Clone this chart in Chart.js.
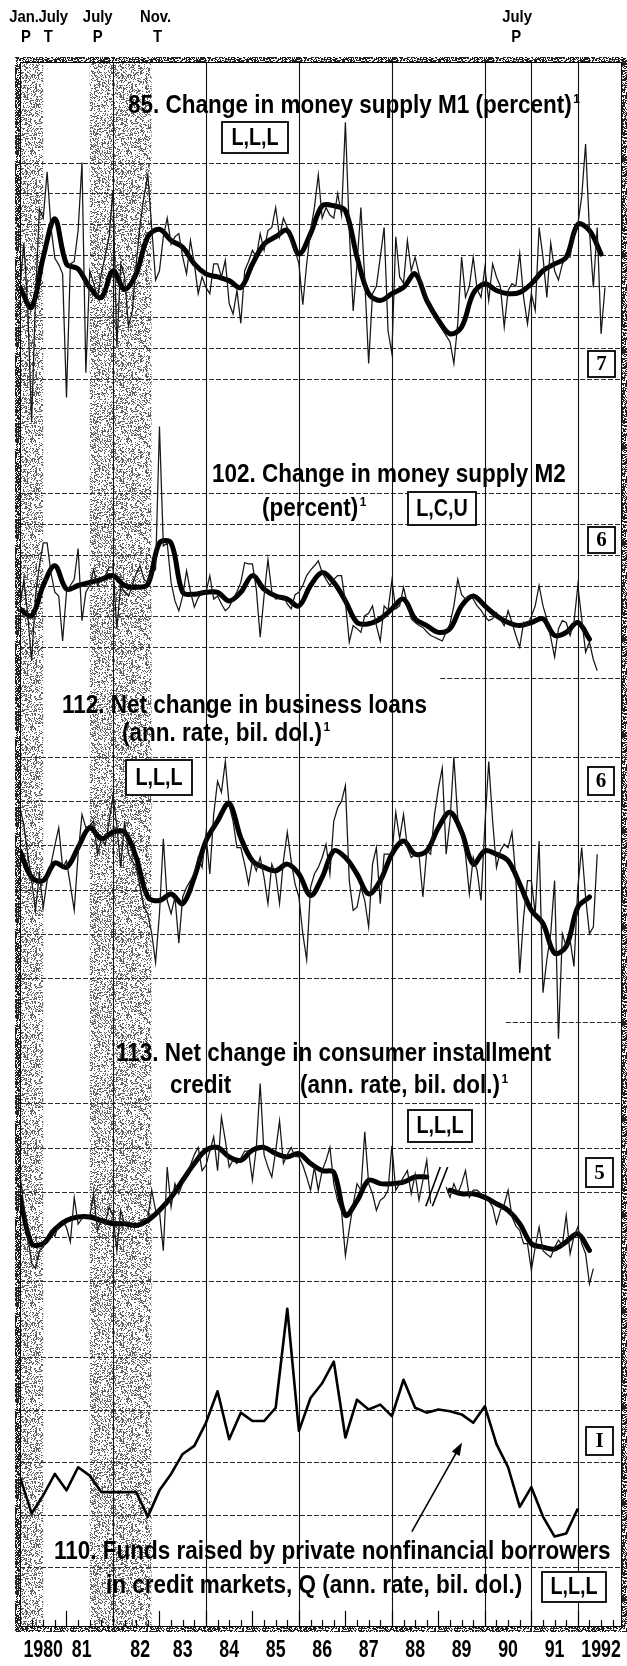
<!DOCTYPE html>
<html>
<head>
<meta charset="utf-8">
<style>
  html, body { margin: 0; padding: 0; background: #fff; }
  canvas { display: block; }
</style>
<script src="https://cdn.jsdelivr.net/npm/chart.js@4.4.1/dist/chart.umd.min.js"></script>
</head>
<body>
<canvas id="bcd" width="627" height="1666"></canvas>
<script>
const START = 1980;

// 85. Change in money supply M1, percent, monthly from Jan. 1980
const m1Monthly = [
  0.5, 1.2, 0.15, -1.7, 0.3, 1.75, 1.6, 2.35, 1.45, 0.95, 0.85, 0.7,
  -1.3, 0.86, 0.9, 1.4, 2.5, -0.9, 0.75, 0.55, 0.32, 0.7, 1.0, 1.3,
  2.05, -0.48, 0.86, 0.65, -0.15, 0.1, 0.86, 1.5, 1.95, 2.3, 1.45, 0.6,
  0.75, 1.3, 1.6, 1.18, 1.3, 1.35, 0.97, 0.7, 1.24, 0.86, 0.38, 0.65,
  0.48, 0.38, 0.86, 0.86, 0.65, 0.92, 0.22, 0.05, 0.43, -0.1, 0.75, 0.9,
  1.08, 0.97, 1.35, 1.08, 1.4, 1.45, 1.77, 1.3, 1.6, 1.45, 1.24, 1.08,
  0.86, 0.2, 0.86, 1.4, 1.77, 2.3, 1.6, 1.77, 1.65, 1.6, 2.0, 1.65,
  3.15, 1.4, 0.1, 0.86, 1.77, 0.6, -0.75, 0.38, 0.5, 0.97, 1.45, -0.22,
  -0.59, 1.3, 0.65, 0.55, 1.24, 0.75, 0.97, 0.7, 0.48, 0.32, 0.16, 0.0,
  -0.1, -0.2, -0.3, -0.4, -0.75, -0.1, 0.97, 0.32, 0.5, 0.97, 0.45, 0.32,
  0.8, 0.27, 0.86, 0.65, 0.5, -0.16, 0.43, 0.54, 0.5, 1.03, 0.32, -0.11,
  0.38, 0.11, 1.45, 0.97, 0.32, 1.2, 0.75, 0.6, 0.86, 0.97, 0.97, 1.35,
  1.5, 1.95, 2.8, 1.4, 0.48, 1.45, -0.27, 0.48
];
// smoothed M1 curve, read quarterly
const m1Smooth = [
  0.48, 0.16, 0.97, 1.59, 0.86, 0.78, 0.48, 0.32, 0.75, 0.45,
  0.7, 1.3, 1.42, 1.24, 1.13, 0.86, 0.7, 0.65, 0.59, 0.48,
  0.86, 1.18, 1.3, 1.4, 1.02, 1.35, 1.8, 1.8, 1.72, 0.97,
  0.38, 0.27, 0.38, 0.48, 0.7, 0.27, -0.05, -0.27, -0.16, 0.38,
  0.54, 0.43, 0.38, 0.4, 0.54, 0.75, 0.86, 0.97, 1.5, 1.4,
  1.02
];

// 102. Change in money supply M2, percent, monthly
const m2Monthly = [
  0.67, 1.1, 0.51, -0.22, 0.83, 1.32, 1.69, 1.69, 1.2, 0.89, 0.83, 0.1,
  0.89, 1.0, 1.1, 1.6, 0.43, 0.89, 1.0, 1.26, 1.0, 1.1, 1.16, 1.3,
  1.3, 0.3, 1.0, 0.89, 0.83, 1.0, 1.2, 1.32, 1.1, 1.05, 1.2, 1.26,
  3.58, 1.64, 1.69, 1.05, 0.75, 0.59, 0.83, 1.24, 0.9, 0.65, 0.8, 0.89,
  0.89, 1.16, 0.78, 0.83, 0.7, 0.59, 0.65, 0.78, 0.9, 1.05, 1.37, 1.35,
  1.35, 0.94, 0.16, 0.83, 1.42, 0.9, 0.78, 0.8, 0.83, 0.7, 0.62, 0.85,
  0.89, 1.0, 1.16, 1.25, 1.32, 1.4, 1.21, 1.1, 1.0, 1.1, 1.16, 1.16,
  0.73, 0.08, 0.35, 0.3, 0.24, 0.51, 0.55, 0.67, 0.35, 0.1, 0.67, 0.6,
  1.08, 0.62, 0.67, 0.97, 0.7, 0.46, 0.4, 0.35, 0.32, 0.25, 0.19, 0.16,
  0.13, 0.1, 0.24, 0.38, 0.67, 1.1, 0.85, 0.78, 0.83, 0.78, 0.67, 0.6,
  0.5, 0.43, 0.46, 0.56, 0.45, 0.35, 0.59, 0.4, 0.19, 0.0, 0.4, 0.35,
  0.5, 0.67, 1.0, 0.67, 0.46, 0.16, -0.16, 0.3, 0.43, 0.4, 0.19, 0.4,
  1.0, 0.46, -0.08, 0.08, -0.2, -0.38
];
const m2Smooth = [
  0.62, 0.51, 1.0, 1.32, 0.94, 1.0, 1.05, 1.1, 1.16, 1.0,
  0.97, 1.02, 1.69, 1.69, 0.89, 0.86, 0.89, 0.89, 0.75, 0.89,
  1.16, 0.94, 0.83, 0.78, 0.67, 1.0, 1.21, 1.05, 0.75, 0.4,
  0.38, 0.46, 0.62, 0.78, 0.46, 0.35, 0.24, 0.3, 0.67, 0.83,
  0.67, 0.51, 0.4, 0.35, 0.4, 0.46, 0.19, 0.24, 0.4, 0.13
];

// 112. Net change in business loans, ann. rate, bil. dol., monthly
const loansMonthly = [
  57, 49, 36, 24, 10.6, 27, 12, 24, 31.5, 40, 48, 30,
  33, 22, 10.6, 36, 54, 48, 49, 51, 36, 43, 40, 51,
  62, 49, 30, 51, 36, 33, 30, 21, 12, 9, 0, -13,
  9, 43, 15, 9, 16.6, -4.3, 16.6, 21, 24, 27, 34.5, 30,
  45, 27, 54, 69, 64, 78, 58, 51, 39, 39, 31.5, 22.5,
  33, 28.5, 34.5, 25.5, 13.6, 31.5, 27, 13.6, 33, 46, 33, 22.5,
  16.6, 0, -11.8, 21, 27, 30, 34.5, 40.5, 27, 51, 57, 60,
  67, 24, 10.6, 12, 21, 15, 3, 31.5, 39, 13.6, 36, 36,
  36, 55, 43, 54, 39, 34.5, 36, 36, 16.6, 37.5, 36, 54,
  65.8, 75, 36, 51, 80, 52, 45, 36, 18, 34.5, 28.5, 15,
  49, 78, 51, 30, 37.5, 40.5, 39, 46, 25.5, -17.8, 7.6, 24,
  24, 9, 42, -26.7, -11.8, 0, 24, -47.6, 0, -5.8, -2.8, -14.8,
  21, 39, 16.6, 0, 3, 36
];
const loansSmooth = [
  37.5, 25.5, 24, 32, 30, 39, 48, 43, 46, 46,
  34.5, 16.6, 15, 18, 13.6, 25.5, 42, 51, 59, 43.4,
  33, 30, 28.5, 31.5, 27, 17.3, 25.5, 37.5, 34.5, 27,
  18, 24, 36, 42, 36, 37.5, 48, 55, 46, 31.5,
  37.5, 36, 33, 22.5, 10.6, 4.6, -8.8, -5.8, 12, 16.6
];

// 113. Net change in consumer installment credit, ann. rate, bil. dol., monthly
// (null months mark the break in the series late 1988 / early 1989)
const creditMonthly = [
  35, 16.6, 0, -15, -18, -8, -6, 0, 3.4, 0, 7.2, 9,
  5, -3, 22, 7, 10, 11, 11, 24, 3.4, 9, 7, 16.6,
  12, -8, 14.7, 7, 8, 6, 6, 8, 10, 10, 26, 14.7,
  14, -8, 39, 16.6, 29.7, 24, 30, 35, 40, 46, 50, 37,
  40, 48, 56, 37, 67, 54, 39, 43, 41, 44, 48, 48,
  31.6, 50, 86, 46, 39, 33.4, 48, 65, 41, 46, 50, 45,
  44.7, 40, 33.4, 26, 39, 26, 37, 42.8, 50, 29.7, 20, 14.7,
  -10.7, 4.3, 18, 29.7, 26, 58.8, 29.7, 24, 14.7, 20.3, 22, 26,
  51, 26, 29.7, 33.4, 37, 24, 35, 20.3, 31.6, 42.8, 18.4, null,
  null, null, 27.8, 22, 29.7, 24, 29.7, 37, 22, 26, 26, 24,
  22, 20, 16.6, 7.2, 14.7, 18, 26, 11, 6, 3.4, -4, -4,
  -19, -6, 5.3, -8, -10, -11.6, -6, -2, -5, 12, -9.7, 0,
  5.3, -4, -9.7, -26.6, -18
];
const creditSmooth = [
  22, -4, -4, 4, 9, 11, 11, 9, 7.2, 7.2,
  6.2, 9, 14.7, 22, 31.6, 41, 48.5, 50, 44.7, 42.8,
  48.5, 50, 46.6, 44.7, 46.6, 41, 37, 36, 12, 20,
  31.6, 29.7, 29.7, 30.6, 33.4, 33.4, null, 26, 24, 24,
  22, 18.4, 14.7, 7.2, -4, -6, -7, -3, 1.5, -7.8
];

// 110. Funds raised by private nonfinancial borrowers, Q, ann. rate, bil. dol.
const fundsQuarterly = [
  407, 303, 355, 416, 369, 435, 411, 364, 364, 364,
  364, 294, 369, 416, 473, 496, 562, 652, 515, 591,
  567, 567, 605, 888, 539, 633, 675, 737, 520, 628,
  600, 614, 581, 685, 605, 591, 600, 595, 586, 562,
  609, 501, 435, 322, 378, 294, 237, 246, 317
];

// scale rules for each panel
const m1Rules = [2.5, 2, 1.5, 1, 0.5, 0, -0.5, -1];
const m2Rules = [2.5, 2, 1.5, 1, 0.5, 0, -0.5];
const loansRules = [80, 60, 40, 20, 0, -20, -40];
const creditRules = [75, 50, 25, 0, -25];
const fundsRules = [750, 600, 450, 300, 150];
const yearRules = [1982, 1984, 1986, 1988, 1990, 1991, 1992];
const yearLabels = ['1980', '81', '82', '83', '84', '85', '86', '87', '88', '89', '90', '91', '1992'];

// business-cycle peaks (P) and troughs (T)
const recessions = [[1980.0, 1980.5], [1981.5, 1982.83]];
const turningPoints = [
  { date: 1980.0, month: 'Jan.', phase: 'P' },
  { date: 1980.5, month: 'July', phase: 'T' },
  { date: 1981.5, month: 'July', phase: 'P' },
  { date: 1982.83, month: 'Nov.', phase: 'T' },
  { date: 1990.5, month: 'July', phase: 'P' }
];

// ---- layout ----
const AREA = { left: 20, right: 622, top: 62, bottom: 1627 };
const SANS = '"Liberation Sans", Arial, Helvetica, sans-serif';
const SERIF = '"Liberation Serif", "DejaVu Serif", serif';

// y range for a panel, pinned by two rule values and the rows they sit on
function band(vTop, pTop, vBot, pBot) {
  const perPx = (vTop - vBot) / (pBot - pTop);
  return {
    type: 'linear',
    display: false,
    min: vBot - (AREA.bottom - pBot) * perPx,
    max: vTop + (pTop - AREA.top) * perPx
  };
}

const panels = [
  { id: 'yM1', rules: m1Rules, scale: band(2.5, 162.5, -1, 379) },
  { id: 'yM2', rules: m2Rules, scale: band(2.5, 493, -0.5, 678), shortRule: [-0.5, 1989.04] },
  { id: 'yLoans', rules: loansRules, scale: band(80, 757, -40, 1022), shortRule: [-40, 1990.45] },
  { id: 'yCredit', rules: creditRules, scale: band(75, 1103, -25, 1281) },
  { id: 'yFunds', rules: fundsRules, scale: band(750, 1357, 150, 1567) }
];

const monthly = vals => vals.map((v, i) => ({ x: START + i / 12, y: v }));
const quarterly = vals => vals.map((v, i) => ({ x: START + i / 4, y: v }));

const thin = (data, axis) => ({
  data: monthly(data), yAxisID: axis, borderColor: '#161616', borderWidth: 1.25,
  pointRadius: 0, tension: 0, spanGaps: false
});
const heavy = (data, axis) => ({
  data: quarterly(data), yAxisID: axis, borderColor: '#000', borderWidth: 5,
  pointRadius: 0, tension: 0.35, spanGaps: false, borderJoinStyle: 'round', borderCapStyle: 'round'
});

function stipple(ctx, ink, cover, seed) {
  const size = 96;
  const c = document.createElement('canvas');
  c.width = c.height = size;
  const g = c.getContext('2d');
  const img = g.createImageData(size, size);
  let s = seed;
  for (let i = 0; i < size * size; i++) {
    s = (s * 1664525 + 1013904223) >>> 0;
    const v = (s / 4294967296) < cover ? ink : 255;
    img.data[i * 4] = img.data[i * 4 + 1] = img.data[i * 4 + 2] = v;
    img.data[i * 4 + 3] = 255;
  }
  g.putImageData(img, 0, 0);
  return ctx.createPattern(c, 'repeat');
}

function text(ctx, str, x, y, size, opt = {}) {
  const squeeze = opt.squeeze ?? 0.9;
  ctx.save();
  ctx.font = `bold ${size}px ${opt.serif ? SERIF : SANS}`;
  ctx.textAlign = opt.align || 'left';
  ctx.textBaseline = opt.baseline || 'alphabetic';
  ctx.fillStyle = '#000';
  ctx.translate(x, y);
  ctx.scale(squeeze, 1);
  ctx.fillText(str, 0, 0);
  const w = ctx.measureText(str).width * squeeze;
  ctx.restore();
  return w;
}

const titleLines = [
  ['85. Change in money supply M1 (percent)', 128, 113, true],
  ['102. Change in money supply M2', 212, 482, false],
  ['(percent)', 262, 516, true],
  ['112. Net change in business loans', 62, 713, false],
  ['(ann. rate, bil. dol.)', 122, 741, true],
  ['113. Net change in consumer installment', 116, 1061, false],
  ['credit', 170, 1093, false],
  ['(ann. rate, bil. dol.)', 300, 1093, true],
  ['110. Funds raised by private nonfinancial borrowers', 54, 1559, false],
  ['in credit markets, Q (ann. rate, bil. dol.)', 106, 1593, false]
];

const tags = [
  ['L,L,L', 222, 122, 66, 31, false],
  ['7', 588, 351, 27, 26, true],
  ['L,C,U', 408, 492, 68, 33, false],
  ['6', 588, 527, 27, 26, true],
  ['L,L,L', 126, 760, 66, 35, false],
  ['6', 588, 767, 26, 28, true],
  ['L,L,L', 408, 1110, 64, 32, false],
  ['5', 586, 1158, 27, 29, true],
  ['I', 586, 1427, 27, 28, true],
  ['L,L,L', 542, 1572, 64, 30, false]
];

const paper = {
  id: 'paper',
  beforeDatasetsDraw(chart) {
    const { ctx, chartArea: a, scales } = chart;
    const x = scales.x;
    ctx.save();
    ctx.fillStyle = '#fff';
    ctx.fillRect(0, 0, chart.width, chart.height);

    // shaded recessions
    ctx.fillStyle = stipple(ctx, 95, 0.32, 11);
    recessions.forEach(([s, e]) => {
      const x0 = x.getPixelForValue(s), x1 = x.getPixelForValue(e);
      ctx.fillRect(x0, a.top, x1 - x0, a.bottom - a.top);
    });

    // dashed horizontal rules
    ctx.strokeStyle = '#2a2a2a';
    ctx.lineWidth = 1;
    ctx.setLineDash([5, 2]);
    panels.forEach(p => {
      const sc = scales[p.id];
      p.rules.forEach(v => {
        const y = Math.round(sc.getPixelForValue(v)) + 0.5;
        const from = p.shortRule && p.shortRule[0] === v ? x.getPixelForValue(p.shortRule[1]) : a.left;
        ctx.beginPath();
        ctx.moveTo(from, y);
        ctx.lineTo(a.right, y);
        ctx.stroke();
      });
    });

    // solid year rules
    ctx.setLineDash([]);
    ctx.strokeStyle = '#111';
    ctx.lineWidth = 1.1;
    yearRules.forEach(yr => {
      const px = Math.round(x.getPixelForValue(yr)) + 0.5;
      ctx.beginPath();
      ctx.moveTo(px, a.top);
      ctx.lineTo(px, a.bottom);
      ctx.stroke();
    });
    ctx.restore();
  },
  afterDatasetsDraw(chart) {
    const { ctx, chartArea: a, scales } = chart;
    const x = scales.x;
    ctx.save();

    // break marks in series 113
    const yc = scales.yCredit;
    ctx.strokeStyle = '#000';
    ctx.lineWidth = 1.6;
    [[1988.73, 1989.04], [1988.87, 1989.2]].forEach(([d0, d1]) => {
      ctx.beginPath();
      ctx.moveTo(x.getPixelForValue(d0), yc.getPixelForValue(17));
      ctx.lineTo(x.getPixelForValue(d1), yc.getPixelForValue(39));
      ctx.stroke();
    });

    // arrow pointing at series 110
    const yf = scales.yFunds;
    const ax0 = x.getPixelForValue(1988.43), ay0 = yf.getPixelForValue(251);
    const ax1 = x.getPixelForValue(1989.51), ay1 = yf.getPixelForValue(506);
    const ang = Math.atan2(ay1 - ay0, ax1 - ax0);
    ctx.lineWidth = 1.6;
    ctx.beginPath();
    ctx.moveTo(ax0, ay0);
    ctx.lineTo(ax1 - 10 * Math.cos(ang), ay1 - 10 * Math.sin(ang));
    ctx.stroke();
    ctx.fillStyle = '#000';
    ctx.beginPath();
    ctx.moveTo(ax1, ay1);
    ctx.lineTo(ax1 - 13 * Math.cos(ang) + 4.5 * Math.sin(ang), ay1 - 13 * Math.sin(ang) - 4.5 * Math.cos(ang));
    ctx.lineTo(ax1 - 13 * Math.cos(ang) - 4.5 * Math.sin(ang), ay1 - 13 * Math.sin(ang) + 4.5 * Math.cos(ang));
    ctx.closePath();
    ctx.fill();

    // textured frame
    ctx.fillStyle = stipple(ctx, 35, 0.6, 5);
    ctx.fillRect(a.left - 5, a.top - 5, a.right - a.left + 10, 5);
    ctx.fillRect(a.left - 5, a.bottom, a.right - a.left + 10, 5);
    ctx.fillRect(a.left - 5, a.top, 5, a.bottom - a.top);
    ctx.fillRect(a.right, a.top, 5, a.bottom - a.top);
    ctx.strokeStyle = '#000';
    ctx.lineWidth = 1;
    ctx.strokeRect(a.left + 0.5, a.top + 0.5, a.right - a.left - 1, a.bottom - a.top - 1);

    // quarter ticks rising from the bottom
    ctx.lineWidth = 1.2;
    for (let q = 1; q < (x.max - START) * 4; q++) {
      const d = START + q / 4;
      const px = Math.round(x.getPixelForValue(d)) + 0.5;
      const len = q % 4 === 0 ? 16 : 7;
      ctx.beginPath();
      ctx.moveTo(px, a.bottom);
      ctx.lineTo(px, a.bottom - len);
      ctx.stroke();
    }

    // year labels
    const nudge = { '81': -8, '82': 4 };
    yearLabels.forEach((lab, i) => {
      const px = x.getPixelForValue(START + i + 0.5) + (nudge[lab] || 0);
      text(ctx, lab, px, 1657, 24, { align: 'center', squeeze: 0.74 });
    });

    // cycle turning points above the frame
    const shift = [[4, 6], [10, 5], [8, 8], [4, 6], [9, 8]];
    turningPoints.forEach((tp, i) => {
      const px = x.getPixelForValue(tp.date);
      text(ctx, tp.month, px + shift[i][0], 22, 16.5, { align: 'center' });
      text(ctx, tp.phase, px + shift[i][1], 42, 16.5, { align: 'center' });
    });

    // panel titles
    titleLines.forEach(([str, tx, ty, sup]) => {
      const w = text(ctx, str, tx, ty, 25);
      if (sup) text(ctx, '1', tx + w + 1.5, ty - 10, 12, { squeeze: 1 });
    });

    // boxed codes
    tags.forEach(([str, bx, by, bw, bh, serif]) => {
      ctx.fillStyle = '#fff';
      ctx.fillRect(bx, by, bw, bh);
      ctx.strokeStyle = '#000';
      ctx.lineWidth = 1.8;
      ctx.strokeRect(bx, by, bw, bh);
      if (serif) text(ctx, str, bx + bw / 2, by + bh / 2 + 1, 21, { align: 'center', baseline: 'middle', serif: true, squeeze: 1 });
      else text(ctx, str, bx + bw / 2, by + bh / 2 + 1, 23, { align: 'center', baseline: 'middle', squeeze: 0.86 });
    });
    ctx.restore();
  }
};

const scales = {
  x: { type: 'linear', display: false, min: START, max: 1992.95 }
};
panels.forEach(p => { scales[p.id] = p.scale; });

new Chart(document.getElementById('bcd'), {
  type: 'line',
  data: {
    datasets: [
      thin(m1Monthly, 'yM1'), heavy(m1Smooth, 'yM1'),
      thin(m2Monthly, 'yM2'), heavy(m2Smooth, 'yM2'),
      thin(loansMonthly, 'yLoans'), heavy(loansSmooth, 'yLoans'),
      thin(creditMonthly, 'yCredit'), heavy(creditSmooth, 'yCredit'),
      {
        data: quarterly(fundsQuarterly), yAxisID: 'yFunds', borderColor: '#000',
        borderWidth: 2.6, pointRadius: 0, tension: 0, borderJoinStyle: 'round'
      }
    ]
  },
  options: {
    responsive: false,
    animation: false,
    devicePixelRatio: 1,
    events: [],
    layout: { padding: { left: AREA.left, top: AREA.top, right: 627 - AREA.right, bottom: 1666 - AREA.bottom } },
    scales,
    plugins: { legend: { display: false }, tooltip: { enabled: false } }
  },
  plugins: [paper]
});
</script>
</body>
</html>
